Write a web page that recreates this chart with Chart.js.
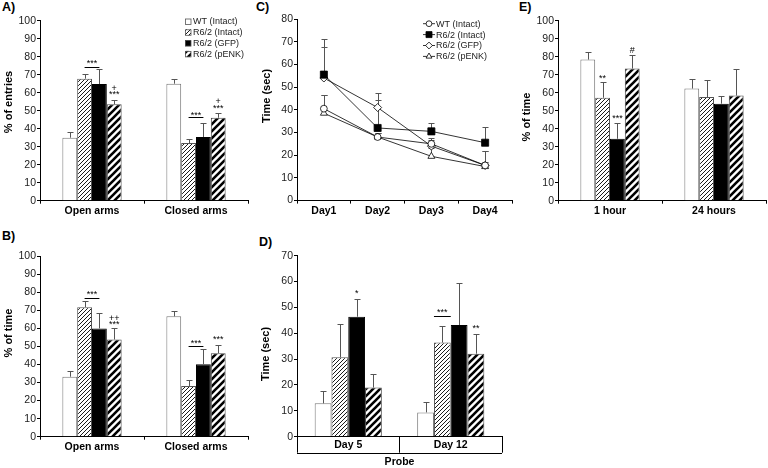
<!DOCTYPE html>
<html>
<head>
<meta charset="utf-8">
<script src="https://cdn.jsdelivr.net/npm/chart.js@4/dist/chart.umd.min.js"></script>
<style>
body { margin: 0; background: #fff; width: 768px; height: 468px; position: relative; overflow: hidden; font-family: "Liberation Sans", Arial, sans-serif; }
canvas { position: absolute; }
.panel { position: absolute; font-weight: bold; font-size: 12.5px; color: #000; }
</style>
</head>
<body>
<div class="panel" style="left:2px;top:0px">A)</div>
<div class="panel" style="left:2px;top:229px">B)</div>
<div class="panel" style="left:256px;top:0px">C)</div>
<div class="panel" style="left:259px;top:235px">D)</div>
<div class="panel" style="left:519px;top:0px">E)</div>

<canvas id="chartA" style="left:0;top:0" width="255" height="220"></canvas>
<canvas id="chartB" style="left:0;top:220px" width="255" height="248"></canvas>
<canvas id="chartC" style="left:255px;top:0" width="265" height="220"></canvas>
<canvas id="chartD" style="left:255px;top:220px" width="265" height="248"></canvas>
<canvas id="chartE" style="left:520px;top:0" width="248" height="220"></canvas>

<script>
// Grupos y categorias
const groups = ['WT (Intact)', 'R6/2 (Intact)', 'R6/2 (GFP)', 'R6/2 (pENK)'];
const arms = ['Open arms', 'Closed arms'];
const days = ['Day1', 'Day2', 'Day3', 'Day4'];
const probeDays = ['Day 5', 'Day 12'];
const delays = ['1 hour', '24 hours'];

// A) % of entries  (one row per group: [open, closed])
const entriesMean = [[35, 65], [67.8, 32], [64.8, 35.4], [53.6, 46.1]];
const entriesErr = [[3.1, 2.7], [2.7, 2.5], [8.1, 8], [2.6, 2.6]];
// B) % of time in arms
const armTimeMean = [[33.2, 66.6], [71.7, 28.1], [59.9, 40.1], [53.8, 46.2]];
const armTimeErr = [[3, 3], [3.3, 3.2], [8.5, 8.5], [6.1, 4.4]];
// C) latency per day
const latencyMean = [[40.5, 28, 25, 15.5], [55.5, 32, 30.5, 25.5], [54, 41, 24, 15.5], [38.5, 28, 19.5, 15]];
const latencyErr = [[6, 2, 2.5, 6.5], [15.7, 12.5, 3.5, 7], [13.6, 6.5, 2.5, 6.5], [8, 2, 3.5, 2]];
// D) probe time
const probeMean = [[12.9, 9.4], [30.7, 36.4], [46.4, 43.2], [19, 32.1]];
const probeErr = [[4.9, 3.9], [12.7, 6.5], [6.7, 16.1], [5.1, 7.7]];
// E) % of time
const memoryMean = [[78.4, 62.3], [57.2, 57.6], [34.4, 53.9], [73.4, 58.4]];
const memoryErr = [[4.3, 5.5], [9, 9.7], [8.7, 4.5], [7.5, 14.5]];

// Significance marks: ds = group index (or pair for a bracket), idx = category
const entriesMarks = [
    { ds: [1, 2], idx: 0, y: 74.4, ty: 77.2, text: '***' },
    { ds: 3, idx: 0, y: 63, text: '+' },
    { ds: 3, idx: 0, y: 59.7, text: '***' },
    { ds: [1, 2], idx: 1, y: 46.3, ty: 48.4, text: '***' },
    { ds: 3, idx: 1, y: 56, text: '+' },
    { ds: 3, idx: 1, y: 52.2, text: '***' }
];
const armTimeMarks = [
    { ds: [1, 2], idx: 0, y: 76.6, ty: 79.3, text: '***' },
    { ds: 3, idx: 0, y: 66, text: '++' },
    { ds: 3, idx: 0, y: 62.7, text: '***' },
    { ds: [1, 2], idx: 1, y: 50.2, ty: 52.6, text: '***' },
    { ds: 3, idx: 1, y: 54.5, text: '***' }
];
const probeMarks = [
    { ds: 2, idx: 0, y: 56, text: '*' },
    { ds: [1, 1], idx: 1, y: 46.7, ty: 48.8, text: '***' },
    { ds: 3, idx: 1, y: 42.3, text: '**' }
];
const memoryMarks = [
    { ds: 1, idx: 0, y: 68.5, text: '**' },
    { ds: 2, idx: 0, y: 46.3, text: '***' },
    { ds: 3, idx: 0, y: 84, text: '#' }
];

const FONT = '"Liberation Sans", Arial, sans-serif';
Chart.defaults.font.family = FONT;
Chart.defaults.color = '#000';
Chart.defaults.animation = false;

function hatch(size, lw) {
    const c = document.createElement('canvas');
    c.width = c.height = size;
    const x = c.getContext('2d');
    x.fillStyle = '#fff';
    x.fillRect(0, 0, size, size);
    x.strokeStyle = '#000';
    x.lineWidth = lw;
    x.beginPath();
    x.moveTo(-1, size + 1); x.lineTo(size + 1, -1);
    x.moveTo(-size / 2 - 1, size / 2 + 1); x.lineTo(size / 2 + 1, -size / 2 - 1);
    x.moveTo(size / 2 - 1, size * 1.5 + 1); x.lineTo(size * 1.5 + 1, size / 2 - 1);
    x.stroke();
    return x.createPattern(c, 'repeat');
}

const barFills = ['#fff', hatch(4, 0.9), '#000', hatch(7, 2.6)];
const barBorders = ['#777', '#555', '#000', '#444'];

// Error bars (upper half only)
const errorBarsPlugin = {
    id: 'errorBars',
    draw(chart) {
        const ctx = chart.ctx, ys = chart.scales.y;
        ctx.save();
        ctx.strokeStyle = '#555';
        ctx.lineWidth = 1;
        chart.data.datasets.forEach((ds, i) => {
            if (!ds.errors) return;
            chart.getDatasetMeta(i).data.forEach((el, j) => {
                const e = ds.errors[j];
                if (!e) return;
                const x = Math.round(el.x) + 0.5;
                const y0 = ys.getPixelForValue(ds.data[j]);
                const y1 = Math.round(ys.getPixelForValue(ds.data[j] + e)) + 0.5;
                ctx.beginPath();
                ctx.moveTo(x, y0); ctx.lineTo(x, y1);
                ctx.moveTo(x - 3, y1); ctx.lineTo(x + 3, y1);
                ctx.stroke();
            });
        });
        ctx.restore();
    },
    beforeDatasetsDraw(chart, args, opts) { if (opts.under) this.draw(chart); },
    afterDatasetsDraw(chart, args, opts) { if (!opts.under) this.draw(chart); }
};

// Asterisks, crosses and brackets
const marksPlugin = {
    id: 'sigMarks',
    afterDatasetsDraw(chart, args, opts) {
        const list = opts.marks;
        if (!list) return;
        const ctx = chart.ctx, ys = chart.scales.y;
        ctx.save();
        ctx.fillStyle = '#000';
        ctx.strokeStyle = '#000';
        ctx.lineWidth = 1;
        ctx.textAlign = 'center';
        ctx.textBaseline = 'middle';
        ctx.font = '9px ' + FONT;
        list.forEach(m => {
            let x, ty = m.y;
            if (Array.isArray(m.ds)) {
                const a = chart.getDatasetMeta(m.ds[0]).data[m.idx];
                const b = chart.getDatasetMeta(m.ds[1]).data[m.idx];
                let x0 = a.x, x1 = b.x;
                if (m.ds[0] === m.ds[1]) { x0 -= a.width / 2; x1 += a.width / 2; }
                const ly = Math.round(ys.getPixelForValue(m.y)) + 0.5;
                ctx.beginPath();
                ctx.moveTo(x0, ly); ctx.lineTo(x1, ly);
                ctx.stroke();
                x = (x0 + x1) / 2;
                ty = m.ty;
            } else {
                x = chart.getDatasetMeta(m.ds).data[m.idx].x;
            }
            ctx.fillText(m.text, x, ys.getPixelForValue(ty) + 1.5);
        });
        ctx.restore();
    }
};

// Small legend in the top-right corner of a panel
const cornerLegend = {
    id: 'cornerLegend',
    afterDraw(chart, args, o) {
        if (!o.x) return;
        const ctx = chart.ctx;
        ctx.save();
        ctx.font = '9px ' + FONT;
        ctx.textBaseline = 'middle';
        chart.data.datasets.forEach((ds, i) => {
            const y = o.y + i * o.step;
            let tx;
            if (o.kind === 'line') {
                ctx.strokeStyle = '#000';
                ctx.lineWidth = 0.8;
                ctx.beginPath();
                ctx.moveTo(o.x, y); ctx.lineTo(o.x + 12, y);
                ctx.stroke();
                ctx.fillStyle = ds.pointBackgroundColor;
                Chart.helpers.drawPoint(ctx, { pointStyle: ds.pointStyle, radius: ds.pointRadius * 0.85, borderWidth: 0.8, rotation: 0 }, o.x + 6, y);
                tx = o.x + 13;
            } else {
                ctx.fillStyle = ds.backgroundColor;
                ctx.fillRect(o.x, y - 3, 6, 6);
                ctx.strokeStyle = '#555';
                ctx.lineWidth = 0.8;
                ctx.strokeRect(o.x + 0.5, y - 2.5, 5.5, 5.5);
                tx = o.x + 8;
            }
            ctx.fillStyle = '#222';
            ctx.fillText(ds.label, tx, y + 0.5);
        });
        ctx.restore();
    }
};

// Rotated y title at a fixed spot (the original ones are not centred on the axis)
const yTitle = {
    id: 'yTitle',
    afterDraw(chart, args, o) {
        if (!o.text) return;
        const ctx = chart.ctx;
        ctx.save();
        ctx.translate(o.x, o.y);
        ctx.rotate(-Math.PI / 2);
        ctx.font = 'bold 11px ' + FONT;
        ctx.fillStyle = '#000';
        ctx.textAlign = 'center';
        ctx.textBaseline = 'middle';
        ctx.fillText(o.text, 0, 0);
        ctx.restore();
    }
};

// Box under the D axis
const probeBox = {
    id: 'probeBox',
    afterDraw(chart, args, o) {
        if (!o.depth) return;
        const a = chart.chartArea, ctx = chart.ctx;
        const y = Math.round(a.bottom + o.depth) + 0.5;
        ctx.save();
        ctx.strokeStyle = '#000';
        ctx.lineWidth = 1;
        ctx.beginPath();
        ctx.moveTo(a.left, y); ctx.lineTo(a.right, y);
        ctx.stroke();
        ctx.restore();
    }
};

Chart.register(errorBarsPlugin, marksPlugin, cornerLegend, yTitle, probeBox);

function yScale(max, width) {
    return {
        min: 0, max: max,
        ticks: { stepSize: 10, font: { size: 10.5 }, color: '#222', padding: 1 },
        grid: { drawOnChartArea: false, tickLength: 3, color: '#000', tickColor: '#000' },
        border: { color: '#000' },
        afterFit(s) { s.width = width; }
    };
}

function xScale(height) {
    return {
        offset: true,
        grid: { offset: true, drawOnChartArea: false, tickLength: 3, color: '#000', tickColor: '#000' },
        border: { color: '#000' },
        ticks: { font: { size: 10.5, weight: 'bold' }, color: '#000', padding: 1 },
        afterFit(s) { s.height = height; }
    };
}

function barChart(id, labels, means, errs, marks, yOpts, xOpts, pad, catPct, extra) {
    const datasets = groups.map((g, i) => ({
        label: g,
        data: means[i],
        errors: errs[i],
        backgroundColor: barFills[i],
        borderColor: barBorders[i],
        borderWidth: 1,
        categoryPercentage: catPct,
        barPercentage: 1
    }));
    return new Chart(document.getElementById(id), {
        type: 'bar',
        data: { labels: labels, datasets: datasets },
        options: {
            responsive: false,
            layout: { padding: pad },
            scales: { x: xOpts, y: yOpts },
            plugins: Object.assign({
                legend: { display: false },
                tooltip: { enabled: false },
                sigMarks: { marks: marks }
            }, extra)
        }
    });
}

// A) % of entries
barChart('chartA', arms, entriesMean, entriesErr, entriesMarks,
    yScale(100, 40), xScale(19.3),
    { top: 20.7, right: 7, left: 0, bottom: 0 }, 0.57,
    { cornerLegend: { x: 185, y: 21.5, step: 10.8, kind: 'box' },
      yTitle: { text: '% of entries', x: 8.5, y: 102 } });

// B) % of time in arms
barChart('chartB', arms, armTimeMean, armTimeErr, armTimeMarks,
    yScale(100, 40), xScale(31.3),
    { top: 36, right: 7, left: 0, bottom: 0 }, 0.57,
    { yTitle: { text: '% of time', x: 9, y: 113 } });

// D) probe
const probeX = xScale(31.3);
probeX.grid.tickLength = 16;
probeX.ticks.padding = -14;
probeX.title = { display: true, text: 'Probe', font: { size: 10.5, weight: 'bold' }, padding: { top: 0, bottom: 0 } };
barChart('chartD', probeDays, probeMean, probeErr, probeMarks,
    yScale(70, 42), probeX,
    { top: 35.7, right: 18, left: 0, bottom: 0 }, 0.655,
    { probeBox: { depth: 16 },
      yTitle: { text: 'Time (sec)', x: 10.5, y: 134 } });

// E) % of time
barChart('chartE', delays, memoryMean, memoryErr, memoryMarks,
    yScale(100, 38), xScale(19.3),
    { top: 20.7, right: 2, left: 0, bottom: 0 }, 0.57,
    { yTitle: { text: '% of time', x: 6.5, y: 117 } });

// C) latency (line chart)
const pointStyles = ['circle', 'rect', 'rectRot', 'triangle'];
const pointSizes = [3.4, 5, 4, 4];
const pointFills = ['#fff', '#000', '#fff', '#fff'];
new Chart(document.getElementById('chartC'), {
    type: 'line',
    data: {
        labels: days,
        datasets: groups.map((g, i) => ({
            label: g,
            data: latencyMean[i],
            errors: latencyErr[i],
            borderColor: '#000',
            borderWidth: 0.8,
            tension: 0,
            pointStyle: pointStyles[i],
            pointRadius: pointSizes[i],
            pointBackgroundColor: pointFills[i],
            pointBorderColor: '#000',
            pointBorderWidth: 0.8,
            order: i === 1 ? 0 : 1
        }))
    },
    options: {
        responsive: false,
        layout: { padding: { top: 19, right: 8, left: 0, bottom: 0 } },
        scales: {
            x: xScale(19.4),
            y: yScale(80, 42)
        },
        plugins: {
            legend: { display: false },
            tooltip: { enabled: false },
            errorBars: { under: true },
            cornerLegend: { x: 168, y: 23.7, step: 10.9, kind: 'line' },
            yTitle: { text: 'Time (sec)', x: 12, y: 96 }
        }
    }
});
</script>
</body>
</html>
